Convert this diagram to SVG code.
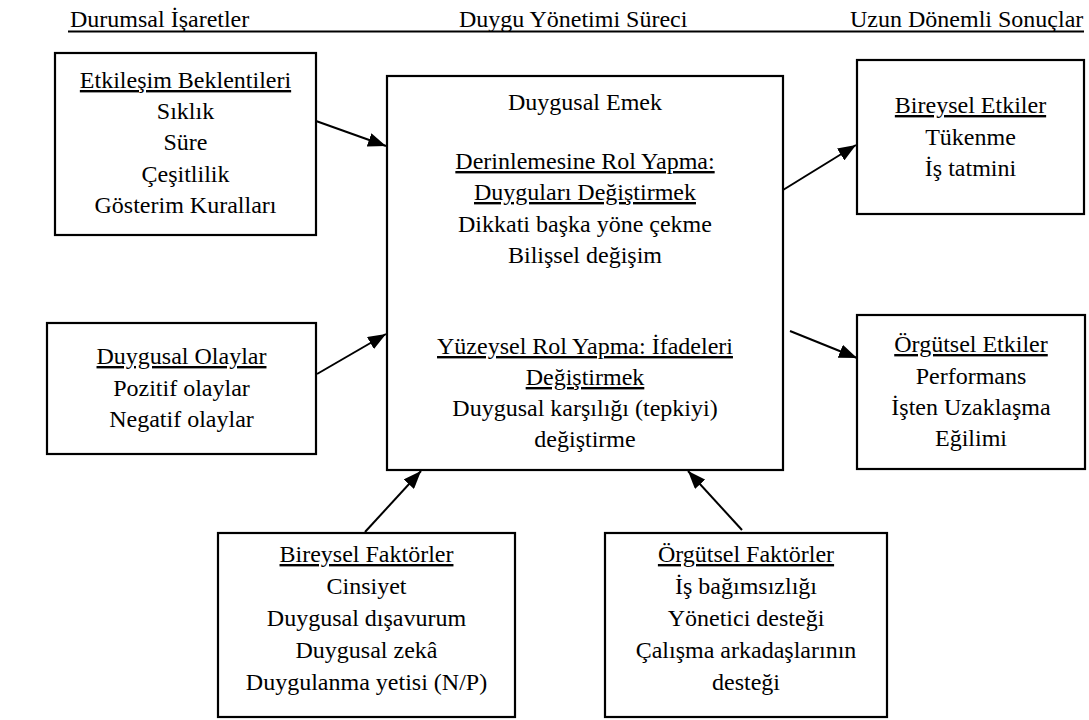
<svg xmlns="http://www.w3.org/2000/svg" width="1089" height="720" viewBox="0 0 1089 720">
<style>
  text { font-family: "Liberation Serif", "Times New Roman", serif; font-size: 24px; fill: #000; text-anchor: middle; }
  .hd { text-anchor: start; }
  .u { text-decoration: underline; }
  .box { fill: #fff; stroke: #000; stroke-width: 2.2; }
  .conn { stroke: #000; stroke-width: 2; fill: none; marker-end: url(#ah); }
</style>
<defs>
  <marker id="ah" markerUnits="userSpaceOnUse" markerWidth="20" markerHeight="14" refX="18" refY="7" orient="auto">
    <path d="M0,0 L18,7 L0,14 z" fill="#000"/>
  </marker>
</defs>
<rect width="1089" height="720" fill="#fff"/>

<g id="header">
  <text class="hd" x="70" y="27">Durumsal İşaretler</text>
  <text class="hd" x="459" y="27">Duygu Yönetimi Süreci</text>
  <text class="hd" x="850" y="27">Uzun Dönemli Sonuçlar</text>
  <line x1="68" y1="31.5" x2="1084" y2="31.5" stroke="#000" stroke-width="2"/>
</g>

<g id="connectors">
  <line class="conn" x1="316" y1="121" x2="386" y2="146"/>
  <line class="conn" x1="317" y1="374" x2="386" y2="334"/>
  <line class="conn" x1="783" y1="190" x2="856" y2="145"/>
  <line class="conn" x1="790" y1="331" x2="857" y2="358"/>
  <line class="conn" x1="365" y1="532" x2="421" y2="471"/>
  <line class="conn" x1="742" y1="530" x2="688" y2="471"/>
</g>

<g id="etkilesim">
  <rect class="box" x="55" y="53" width="261" height="182"/>
  <text class="u" x="185.5" y="88">Etkileşim Beklentileri</text>
  <text x="185.5" y="119">Sıklık</text>
  <text x="185.5" y="150">Süre</text>
  <text x="185.5" y="182">Çeşitlilik</text>
  <text x="185.5" y="213">Gösterim Kuralları</text>
</g>

<g id="duygusal-olaylar">
  <rect class="box" x="47" y="323" width="269" height="131"/>
  <text class="u" x="181.5" y="364">Duygusal Olaylar</text>
  <text x="181.5" y="396">Pozitif olaylar</text>
  <text x="181.5" y="427">Negatif olaylar</text>
</g>

<g id="duygusal-emek">
  <rect class="box" x="387" y="76" width="396" height="394"/>
  <text x="585" y="110">Duygusal Emek</text>
  <text class="u" x="585" y="169">Derinlemesine Rol Yapma:</text>
  <text class="u" x="585" y="200">Duyguları Değiştirmek</text>
  <text x="585" y="232">Dikkati başka yöne çekme</text>
  <text x="585" y="263">Bilişsel değişim</text>
  <text class="u" x="585" y="354">Yüzeysel Rol Yapma: İfadeleri</text>
  <text class="u" x="585" y="385">Değiştirmek</text>
  <text x="585" y="416">Duygusal karşılığı (tepkiyi)</text>
  <text x="585" y="447">değiştirme</text>
</g>

<g id="bireysel-etkiler">
  <rect class="box" x="857" y="60" width="227" height="154"/>
  <text class="u" x="970.5" y="113">Bireysel Etkiler</text>
  <text x="970.5" y="145">Tükenme</text>
  <text x="970.5" y="176">İş tatmini</text>
</g>

<g id="orgutsel-etkiler">
  <rect class="box" x="857" y="315" width="228" height="154"/>
  <text class="u" x="971" y="352">Örgütsel Etkiler</text>
  <text x="971" y="384">Performans</text>
  <text x="971" y="415">İşten Uzaklaşma</text>
  <text x="971" y="446">Eğilimi</text>
</g>

<g id="bireysel-faktorler">
  <rect class="box" x="218" y="533" width="297" height="184"/>
  <text class="u" x="366.5" y="562">Bireysel Faktörler</text>
  <text x="366.5" y="594">Cinsiyet</text>
  <text x="366.5" y="626">Duygusal dışavurum</text>
  <text x="366.5" y="658">Duygusal zekâ</text>
  <text x="366.5" y="690">Duygulanma yetisi (N/P)</text>
</g>

<g id="orgutsel-faktorler">
  <rect class="box" x="605" y="533" width="282" height="184"/>
  <text class="u" x="746" y="562">Örgütsel Faktörler</text>
  <text x="746" y="594">İş bağımsızlığı</text>
  <text x="746" y="626">Yönetici desteği</text>
  <text x="746" y="658">Çalışma arkadaşlarının</text>
  <text x="746" y="690">desteği</text>
</g>
</svg>
